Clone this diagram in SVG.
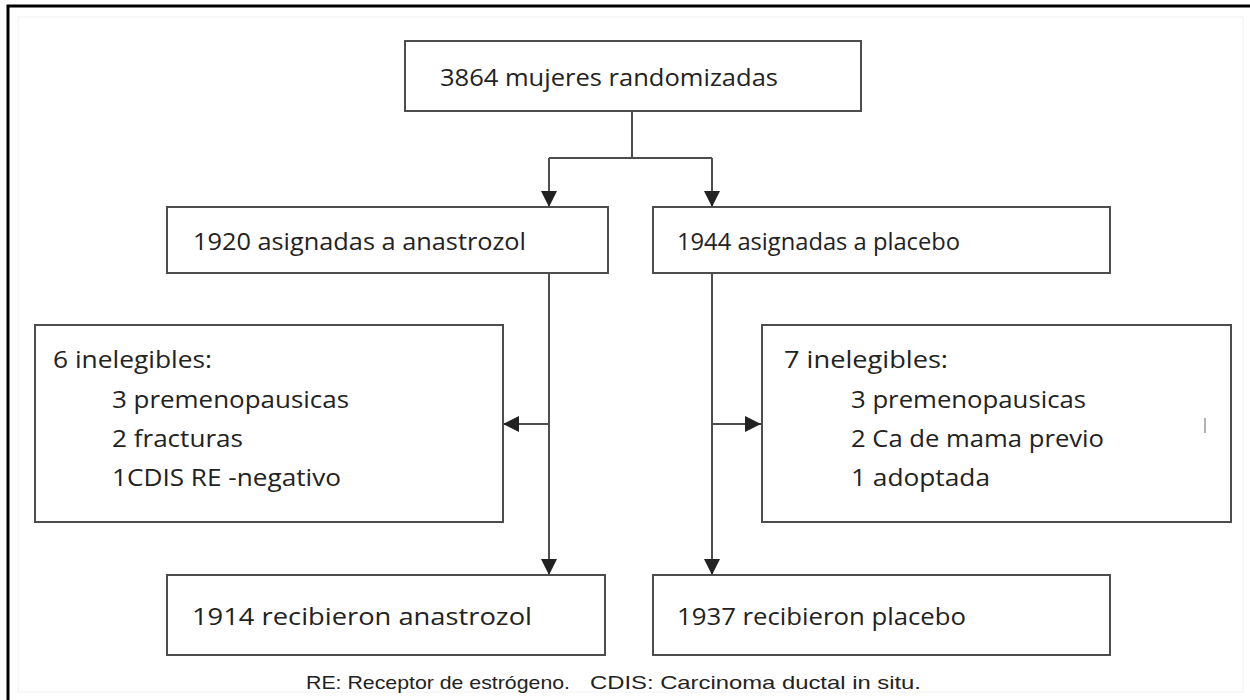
<svg xmlns="http://www.w3.org/2000/svg" width="1250" height="700" viewBox="0 0 1250 700">
<style>
.box{fill:#fff;stroke:#4d4d4d;stroke-width:2}
.t{font-family:"Open Sans","Noto Sans",sans-serif;font-size:24px;fill:#222}
.cap{font-family:"Liberation Sans",Arial,sans-serif;font-size:19px;fill:#222}
.ln{stroke:#4d4d4d;stroke-width:2;fill:none}
</style>
<defs>
<marker id="ah2" viewBox="0 0 16 16" refX="16" refY="8" markerWidth="16" markerHeight="16" markerUnits="userSpaceOnUse" orient="auto">
<path d="M0,0 L16,8 L0,16 z" fill="#222"/>
</marker>
</defs>
<rect width="1250" height="700" fill="#fff"/>
<rect x="18" y="17" width="1225" height="675" fill="none" stroke="#f2f2f2" stroke-width="1"/>
<path d="M8,700 V6 H1250" fill="none" stroke="#000" stroke-width="3"/>
<g id="connectors">
<path class="ln" d="M632,111 V158"/>
<path class="ln" d="M549,158 H712"/>
<path class="ln" d="M549,158 V207" marker-end="url(#ah2)"/>
<path class="ln" d="M712,158 V207" marker-end="url(#ah2)"/>
<path class="ln" d="M549,273 V575" marker-end="url(#ah2)"/>
<path class="ln" d="M712,273 V575" marker-end="url(#ah2)"/>
<path class="ln" d="M549,424 H503" marker-end="url(#ah2)"/>
<path class="ln" d="M712,424 H761" marker-end="url(#ah2)"/>
</g>
<g id="n_random">
<rect class="box" x="405" y="41" width="456" height="70"/>
<text class="t" x="440" y="86" textLength="338" lengthAdjust="spacingAndGlyphs">3864 mujeres randomizadas</text>
</g>
<g id="n_anastrozol">
<rect class="box" x="167" y="207" width="441" height="66"/>
<text class="t" x="193" y="250" textLength="333" lengthAdjust="spacingAndGlyphs">1920 asignadas a anastrozol</text>
</g>
<g id="n_placebo">
<rect class="box" x="653" y="207" width="457" height="66"/>
<text class="t" x="677" y="250" textLength="283" lengthAdjust="spacingAndGlyphs">1944 asignadas a placebo</text>
</g>
<g id="n_inel_left">
<rect class="box" x="35" y="325" width="468" height="197"/>
<text class="t" x="53" y="368" textLength="159" lengthAdjust="spacingAndGlyphs">6 inelegibles:</text>
<text class="t" x="112" y="408" textLength="237" lengthAdjust="spacingAndGlyphs">3 premenopausicas</text>
<text class="t" x="112" y="447" textLength="131" lengthAdjust="spacingAndGlyphs">2 fracturas</text>
<text class="t" x="112" y="486" textLength="229" lengthAdjust="spacingAndGlyphs">1CDIS RE -negativo</text>
</g>
<g id="n_inel_right">
<rect class="box" x="762" y="325" width="469" height="197"/>
<text class="t" x="784" y="368" textLength="164" lengthAdjust="spacingAndGlyphs">7 inelegibles:</text>
<text class="t" x="851" y="408" textLength="235" lengthAdjust="spacingAndGlyphs">3 premenopausicas</text>
<text class="t" x="851" y="447" textLength="253" lengthAdjust="spacingAndGlyphs">2 Ca de mama previo</text>
<text class="t" x="851" y="486" textLength="139" lengthAdjust="spacingAndGlyphs">1 adoptada</text>
<path d="M1205,418 V433" stroke="#999" stroke-width="1.5"/>
</g>
<g id="n_rec_anastrozol">
<rect class="box" x="167" y="575" width="438" height="80"/>
<text class="t" x="192" y="625" textLength="340" lengthAdjust="spacingAndGlyphs">1914 recibieron anastrozol</text>
</g>
<g id="n_rec_placebo">
<rect class="box" x="653" y="575" width="457" height="80"/>
<text class="t" x="677" y="625" textLength="289" lengthAdjust="spacingAndGlyphs">1937 recibieron placebo</text>
</g>
<g id="caption">
<text class="cap" x="306" y="689" textLength="264" lengthAdjust="spacingAndGlyphs">RE: Receptor de estrógeno.</text>
<text class="cap" x="590" y="689" textLength="331" lengthAdjust="spacingAndGlyphs">CDIS: Carcinoma ductal in situ.</text>
</g>
</svg>
